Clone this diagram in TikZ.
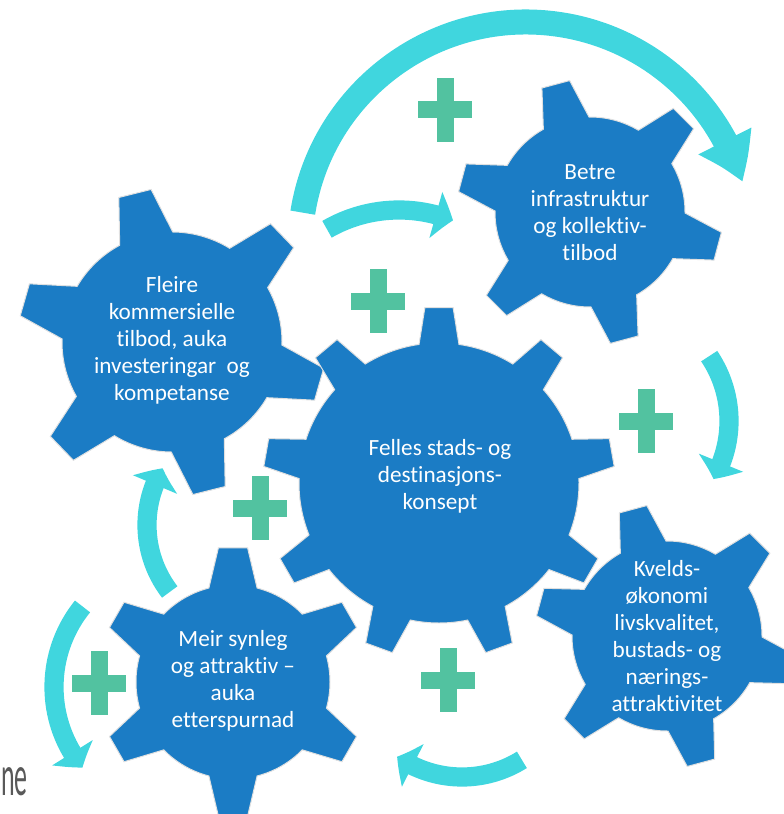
\documentclass[tikz,border=0pt]{standalone}
\usepackage{fontspec}
\setmainfont{Carlito}[Ligatures={NoCommon}]
\usetikzlibrary{arrows.meta,bending}
\definecolor{cogblue}{RGB}{27,124,197}
\definecolor{loopcyan}{RGB}{64,214,222}
\definecolor{plusgreen}{RGB}{82,194,160}
\definecolor{slidegray}{RGB}{89,89,89}
\tikzstyle{cog}=[fill=cogblue,draw=black!12,line width=0.7pt]
\tikzstyle{cogtext}=[text=white,align=center,inner sep=0,font=\fontsize{16.5}{19.2}\selectfont]
\tikzstyle{bigarrow}=[draw=loopcyan,line width=0.625cm,-{Triangle[width=1.4cm,length=1.12cm,bend]}]
\tikzstyle{smallarrow}=[draw=loopcyan,line width=0.48cm,-{Triangle[width=1.17cm,length=0.45cm,bend]}]
\tikzset{plussign/.pic={
  \fill[plusgreen] (-27,-8.5) rectangle (27,8.5);
  \fill[plusgreen] (-8.5,-32) rectangle (8.5,32);
}}
% #1 centre, #2 teeth, #3 outer r, #4 inner r, #5 first tooth, #6 tip half angle, #7 base half angle
\newcommand{\drawcog}[7]{%
  \filldraw[cog,shift={#1}] ({#5-#7}:#4)
    \foreach \k in {1,...,#2}{
      -- ({#5+(\k-1)*360/#2-#6}:#3) -- ({#5+(\k-1)*360/#2+#6}:#3)
      -- ({#5+(\k-1)*360/#2+#7}:#4)
      arc[start angle={#5+(\k-1)*360/#2+#7},end angle={#5+\k*360/#2-#7},radius=#4]
    } -- cycle;
}

\begin{document}
\begin{tikzpicture}[x=0.025cm,y=-0.025cm]
\useasboundingbox (0,0) rectangle (783,814);

% gears
\drawcog{(172,342)}{6}{154}{110}{256}{6.2}{14.4}
\drawcog{(590,212)}{6}{133}{95}{255}{6.2}{14.4}
\drawcog{(439,483)}{9}{176}{140}{270}{4.6}{8.2}
\drawcog{(667,636)}{6}{132}{95}{255}{6.2}{14.4}
\drawcog{(233,682)}{6}{135}{97}{270}{6.2}{14.4}

\node[cogtext] (fleire) at (172,340) {Fleire\\kommersielle\\tilbod, auka\\investeringar\ \ og\\kompetanse};
\node[cogtext] (betre) at (590,213) {Betre\\infrastruktur\\og kollektiv-\\tilbod};
\node[cogtext] (felles) at (440,476) {Felles stads- og\\destinasjons-\\konsept};
\node[cogtext] (kvelds) at (667,636) {Kvelds-\\økonomi\\livskvalitet,\\bustads- og\\nærings-\\attraktivitet};
\node[cogtext] (meir) at (233,681) {Meir synleg\\og attraktiv --\\auka\\etterspurnad};

% plus signs
\foreach \px/\py in {445/110,378/301,646/421,260/508,99/683,448/680}
  \pic at (\px,\py) {plussign};

% loop arrows
\coordinate (l1) at ([shift={(189:226)}]526,248);
\coordinate (l2) at ([shift={(240:144)}]399,354);
\coordinate (l3) at ([shift={(326:116)}]613,421);
\coordinate (l4) at ([shift={(58:113)}]462,664);
\coordinate (l5) at ([shift={(142.5:110)}]257,525);
\coordinate (l6) at ([shift={(219:128)}]182,687);
\draw[bigarrow] (l1) arc[start angle=189,end angle=343,radius=226];
\draw[smallarrow] (l2) arc[start angle=240,end angle=292,radius=144];
\draw[smallarrow] (l3) arc[start angle=326,end angle=390,radius=116];
\draw[smallarrow] (l4) arc[start angle=58,end angle=125,radius=113];
\draw[smallarrow] (l5) arc[start angle=142.5,end angle=211,radius=110];
\draw[smallarrow] (l6) arc[start angle=219,end angle=141,radius=128];

\node[anchor=base west,inner sep=0,text=slidegray,font=\fontsize{41}{41}\selectfont] (ne) at (1,795) {\scalebox{0.45}[1]{ne}};
\end{tikzpicture}
\end{document}
